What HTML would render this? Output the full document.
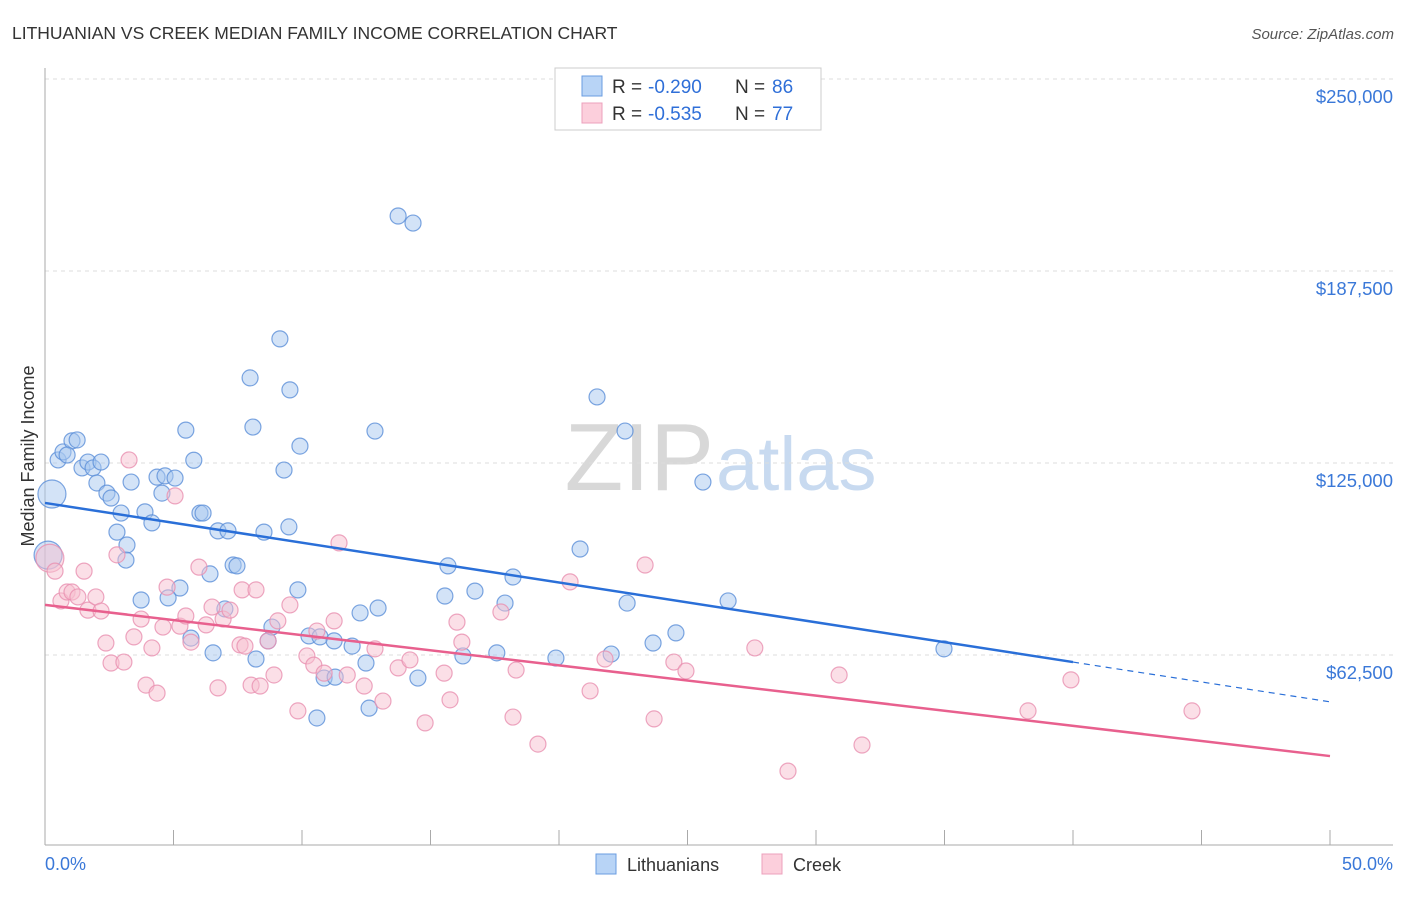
<!DOCTYPE html>
<html><head><meta charset="utf-8"><style>
body{margin:0;background:#fff;font-family:"Liberation Sans",sans-serif;}
svg text{font-family:"Liberation Sans",sans-serif;}
</style></head><body>
<svg id="chart" width="1406" height="892">
<text x="12" y="39" font-size="17.5" fill="#333">LITHUANIAN VS CREEK MEDIAN FAMILY INCOME CORRELATION CHART</text>
<text x="1394" y="39" font-size="15" fill="#555" font-style="italic" text-anchor="end">Source: ZipAtlas.com</text>
<text x="34" y="456" font-size="18" fill="#333" text-anchor="middle" transform="rotate(-90 34 456)">Median Family Income</text>
<text x="714" y="490" font-size="96" fill="#d8d8d8" text-anchor="end" font-family="Liberation Serif">ZIP</text>
<text x="716" y="490" font-size="76" fill="#c8daf0">atlas</text>
<g id="grid"></g><g id="axes"></g><g id="pts"></g><g id="lines"></g>
<g>
<rect x="555" y="68" width="266" height="62" fill="#fff" stroke="#ccc"/>
<rect x="582" y="76" width="20" height="20" fill="#b8d4f6" stroke="#6a9ce0"/>
<rect x="582" y="103" width="20" height="20" fill="#fccfdc" stroke="#eca0bc"/>
<text x="612" y="93" font-size="19" fill="#333">R =</text>
<text x="648" y="93" font-size="19" fill="#2f6fd8">-0.290</text>
<text x="735" y="93" font-size="19" fill="#333">N =</text>
<text x="772" y="93" font-size="19" fill="#2f6fd8">86</text>
<text x="612" y="120" font-size="19" fill="#333">R =</text>
<text x="648" y="120" font-size="19" fill="#2f6fd8">-0.535</text>
<text x="735" y="120" font-size="19" fill="#333">N =</text>
<text x="772" y="120" font-size="19" fill="#2f6fd8">77</text>
</g>
<g>
<rect x="596" y="854" width="20" height="20" fill="#b8d4f6" stroke="#6a9ce0"/>
<text x="627" y="871" font-size="18" fill="#333">Lithuanians</text>
<rect x="762" y="854" width="20" height="20" fill="#fccfdc" stroke="#eca0bc"/>
<text x="793" y="871" font-size="18" fill="#333">Creek</text>
</g>
<text x="45" y="870" font-size="18" fill="#3a78d8">0.0%</text>
<text x="1393" y="870" font-size="18" fill="#3a78d8" text-anchor="end">50.0%</text>
</svg>
<script>
const yTicks=[62500,125000,187500,250000];
const yTickLabels=["$62,500","$125,000","$187,500","$250,000"];
const blueX=[0.27,0.12,0.51,0.70,1.05,1.25,0.86,1.44,1.67,1.87,2.18,2.02,2.41,2.57,2.96,2.80,3.19,3.15,3.35,3.89,4.16,4.36,4.67,5.06,4.55,5.48,5.79,6.03,6.15,6.73,7.12,6.42,7.32,7.47,5.25,3.74,4.79,5.68,6.54,7.00,7.98,8.09,8.52,8.21,8.68,8.83,9.14,9.53,9.30,9.92,9.49,9.84,10.27,10.70,10.58,10.86,11.29,11.25,11.95,12.26,12.96,12.49,12.61,12.84,13.74,14.32,14.51,15.68,15.56,16.26,16.73,17.58,17.90,18.21,19.88,20.82,21.48,22.03,22.57,22.65,23.66,24.55,25.60,26.58,34.98];
const blueY=[114.9,95.0,126.0,128.6,132.2,132.5,127.6,123.4,125.3,123.4,125.3,118.5,115.2,113.6,108.7,102.5,98.3,93.4,118.8,109.1,105.5,120.4,120.8,120.1,115.2,135.7,125.9,108.7,108.7,102.9,102.9,88.9,91.8,91.5,84.3,80.4,81.1,68.0,63.2,77.5,152.7,136.7,102.5,61.2,67.1,71.6,165.4,148.8,122.7,130.5,104.2,83.7,68.7,68.4,42.0,55.0,55.3,67.1,65.4,76.2,77.8,59.9,45.2,135.4,205.4,203.1,55.0,91.5,81.7,62.2,83.3,63.2,79.4,87.9,61.5,97.0,146.5,62.8,135.4,79.4,66.4,69.7,118.8,80.1,64.5];
const pinkX=[0.19,0.39,0.62,0.86,1.05,1.28,1.52,1.67,1.98,2.18,2.37,2.80,2.57,3.07,3.27,3.46,3.74,3.93,4.16,4.36,4.59,4.75,5.06,5.25,5.48,5.68,5.99,6.27,6.50,6.73,6.93,7.20,7.59,7.78,7.67,8.21,8.02,8.37,8.68,8.91,9.06,9.53,9.84,10.19,10.46,10.58,10.86,11.25,11.44,11.76,12.42,12.84,13.15,13.74,14.20,14.79,15.53,15.76,16.03,16.22,17.74,18.21,18.33,19.18,20.43,21.21,21.79,23.35,23.70,24.47,24.94,27.62,28.91,30.90,31.79,38.25,39.92,44.63];
const pinkY=[94.0,89.8,80.1,83.0,83.0,81.4,89.8,77.1,81.4,76.8,66.4,95.1,59.9,60.2,126.0,68.4,74.2,52.7,64.8,50.1,71.6,84.6,114.3,71.9,75.2,66.7,91.1,72.3,78.1,51.8,74.2,77.1,65.8,65.4,83.7,83.7,52.7,52.4,67.1,56.0,73.6,78.8,44.3,62.2,59.2,70.3,56.6,73.6,99.0,56.0,52.4,64.5,47.5,58.3,60.9,40.4,56.6,47.9,73.2,66.7,76.5,42.3,57.6,33.5,86.3,50.8,61.2,91.8,41.7,60.2,57.3,64.8,24.7,56.0,33.2,44.3,54.4,44.3];
const blueBig=[0,1], pinkBig=[0];
const blueTrend=[0,112.0,40,60.2,50,47.25];
const pinkTrend=[0,78.8,50,29.6];
const NS='http://www.w3.org/2000/svg';
const sx=p=>45+p/50*1285;
const sy=v=>655-(v-62500)/62500*192;
const syk=k=>sy(k*1000);
function mk(tag,attrs,parent){const e=document.createElementNS(NS,tag);for(const k in attrs)e.setAttribute(k,attrs[k]);document.getElementById(parent).appendChild(e);return e;}
yTicks.forEach((t,i)=>{
 const l=mk('line',{x1:45,x2:1393,y1:sy(t),y2:sy(t),stroke:'#ddd','stroke-dasharray':'4,4'},'grid');
 
 
 const tx=mk('text',{x:1393,y:sy(t)+24,'font-size':18.5,fill:'#3a78d8','text-anchor':'end'},'grid');
 tx.textContent=yTickLabels[i];
 
 
});
let a=mk('line',{x1:45,x2:45,y1:68,y2:845,stroke:'#aaa'},'axes');


a=mk('line',{x1:45,x2:1393,y1:845,y2:845,stroke:'#aaa'},'axes');


for(let i=0;i<=10;i++){const t=mk('line',{x1:sx(i*5),x2:sx(i*5),y1:830,y2:845,stroke:'#aaa'},'axes');
 
 }
function dots(X,Y,big,fill,stroke,name){X.forEach((x,i)=>{
 const c=mk('circle',{cx:sx(x),cy:syk(Y[i]),r:big.includes(i)?14:8,fill:fill,'fill-opacity':0.5,stroke:stroke,'stroke-opacity':0.8,'stroke-width':1.2},'pts');
 
 
});}
dots(blueX,blueY,blueBig,'#a8c8f0','#5b8fd8','lithuanian-point');
dots(pinkX,pinkY,pinkBig,'#f8c0d0','#e890b0','creek-point');
let l=mk('line',{x1:sx(blueTrend[0]),y1:syk(blueTrend[1]),x2:sx(blueTrend[2]),y2:syk(blueTrend[3]),stroke:'#2a6fd8','stroke-width':2.5},'lines');


l=mk('line',{x1:sx(blueTrend[2]),y1:syk(blueTrend[3]),x2:sx(blueTrend[4]),y2:syk(blueTrend[5]),stroke:'#2a6fd8','stroke-width':1.2,'stroke-dasharray':'6,5'},'lines');


l=mk('line',{x1:sx(pinkTrend[0]),y1:syk(pinkTrend[1]),x2:sx(pinkTrend[2]),y2:syk(pinkTrend[3]),stroke:'#e8608e','stroke-width':2.5},'lines');


</script>
</body></html>
